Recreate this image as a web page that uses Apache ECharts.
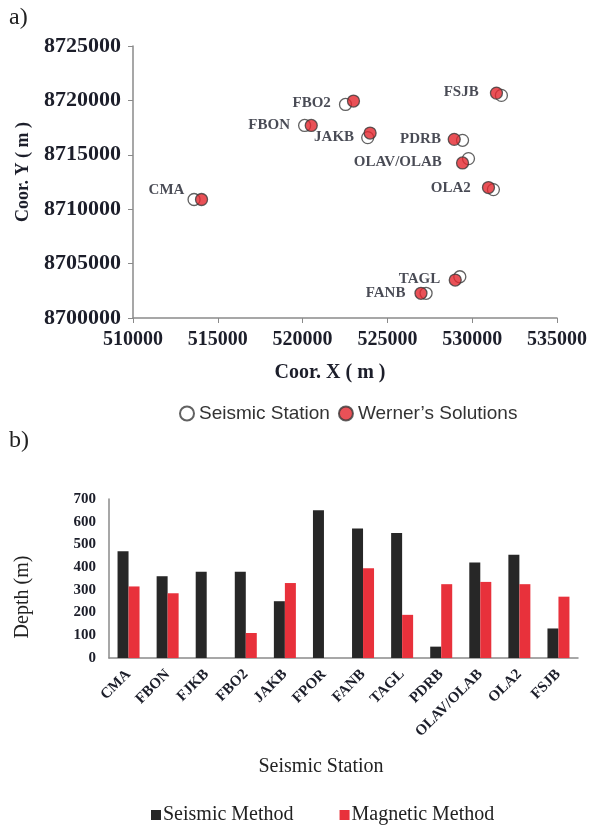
<!DOCTYPE html>
<html>
<head>
<meta charset="utf-8">
<script src="https://cdn.jsdelivr.net/npm/echarts@6/dist/echarts.min.js"></script>
<style>
  html, body { margin: 0; padding: 0; background: #fff; }
  #chart { width: 590px; height: 825px; }
</style>
</head>
<body>
<div id="chart"></div>
<script>
// ---- Panel a): station coordinates ----
const stations = ['CMA', 'FBON', 'FBO2', 'JAKB', 'FSJB', 'PDRB', 'OLAV/OLAB', 'OLA2', 'TAGL', 'FANB'];
const seismicX = [513600, 520120, 522530, 523840, 531720, 529430, 529780, 531250, 529270, 527280];
const seismicY = [8710890, 8717700, 8719630, 8716580, 8720460, 8716330, 8714650, 8711800, 8703790, 8702270];
const wernerX  = [514040, 520510, 523000, 523980, 531430, 528940, 529430, 530960, 529000, 526980];
const wernerY  = [8710890, 8717700, 8719940, 8717000, 8720670, 8716420, 8714250, 8711990, 8703490, 8702270];
const xTicks = [510000, 515000, 520000, 525000, 530000, 535000];
const yTicks = [8700000, 8705000, 8710000, 8715000, 8720000, 8725000];

// ---- Panel b): depth by station ----
const depthStations = ['CMA', 'FBON', 'FJKB', 'FBO2', 'JAKB', 'FPOR', 'FANB', 'TAGL', 'PDRB', 'OLAV/OLAB', 'OLA2', 'FSJB'];
const seismicDepth  = [470, 360, 380, 380, 250, 650, 570, 550, 50, 420, 455, 130];
const magneticDepth = [315, 285, 0, 110, 330, 0, 395, 190, 325, 335, 325, 270];
const depthTicks = [0, 100, 200, 300, 400, 500, 600, 700];

// label nudges for the station names beside the points
const labelNudge = {
  'CMA': [2, -9], 'FBON': [-3, 0], 'FBO2': [-3, -1], 'JAKB': [-2, 0], 'FSJB': [-11, -3],
  'PDRB': [-10, -1], 'OLAV/OLAB': [-15, 4], 'OLA2': [-11, -1], 'TAGL': [-8, 2], 'FANB': [-9, 0]
};

const SERIF = '"Liberation Serif", "Times New Roman", serif';
const SANS = '"Liberation Sans", Arial, sans-serif';
const TXT = '#1c1e2a';
const AXIS = '#8a8a8a';
const plain = v => String(v);

const seismicPts = stations.map((s, i) => ({
  name: s,
  value: [seismicX[i], seismicY[i]],
  label: { offset: labelNudge[s] }
}));
const wernerPts = stations.map((s, i) => ({ name: s, value: [wernerX[i], wernerY[i]] }));

const chart = echarts.init(document.getElementById('chart'), null, { renderer: 'canvas' });

chart.setOption({
  animation: false,
  backgroundColor: '#fff',
  graphic: [
    { type: 'text', left: 9, top: 6, style: { text: 'a)', font: '24px ' + SERIF, fill: '#222' } },
    { type: 'text', left: 9, top: 429, style: { text: 'b)', font: '24px ' + SERIF, fill: '#222' } },
    { type: 'text', x: 330, y: 373, style: { text: 'Coor. X ( m )', font: 'bold 20px ' + SERIF, fill: TXT, align: 'center', verticalAlign: 'middle' } },
    { type: 'text', x: 23, y: 172, rotation: Math.PI / 2, style: { text: 'Coor. Y ( m )', font: 'bold 18px ' + SERIF, fill: TXT, align: 'center', verticalAlign: 'middle' } },
    { type: 'text', x: 321, y: 767, style: { text: 'Seismic Station', font: '20px ' + SERIF, fill: '#222', align: 'center', verticalAlign: 'middle' } },
    { type: 'text', x: 23, y: 597, rotation: Math.PI / 2, style: { text: 'Depth (m)', font: '20px ' + SERIF, fill: '#222', align: 'center', verticalAlign: 'middle' } }
  ],
  legend: [
    {
      data: ['Seismic Station', "Werner\u2019s Solutions"],
      left: 174, top: 399,
      itemWidth: 14, itemHeight: 14, itemGap: 8,
      textStyle: { fontFamily: SANS, fontSize: 19, color: '#333' }
    },
    {
      data: ['Seismic Method', 'Magnetic Method'],
      left: 146, top: 800,
      icon: 'rect', itemWidth: 10, itemHeight: 10, itemGap: 46,
      textStyle: { fontFamily: SERIF, fontSize: 20, color: '#222', padding: [0, 0, 0, -3] }
    }
  ],
  grid: [
    { left: 133, right: 33, top: 46, bottom: 507 },
    { left: 109, right: 12, top: 499, bottom: 167 }
  ],
  xAxis: [
    {
      type: 'value', gridIndex: 0,
      min: xTicks[0], max: xTicks[xTicks.length - 1], interval: 5000,
      splitLine: { show: false },
      axisLine: { show: true, lineStyle: { color: AXIS, width: 1.5 } },
      axisTick: { show: true, length: 5, lineStyle: { color: AXIS } },
      axisLabel: { margin: 12, formatter: plain, fontFamily: SERIF, fontWeight: 'bold', fontSize: 20, color: TXT }
    },
    {
      type: 'category', gridIndex: 1, data: depthStations,
      axisLine: { show: true, lineStyle: { color: AXIS, width: 1.5 } },
      axisTick: { show: false },
      axisLabel: { rotate: 45, margin: 14, interval: 0, fontFamily: SERIF, fontWeight: 'bold', fontSize: 15, color: TXT }
    }
  ],
  yAxis: [
    {
      type: 'value', gridIndex: 0,
      min: yTicks[0], max: yTicks[yTicks.length - 1], interval: 5000,
      splitLine: { show: false },
      axisLine: { show: true, lineStyle: { color: AXIS, width: 1.5 } },
      axisTick: { show: true, length: 5, lineStyle: { color: AXIS } },
      axisLabel: { margin: 12, formatter: plain, fontFamily: SERIF, fontWeight: 'bold', fontSize: 22, color: TXT }
    },
    {
      type: 'value', gridIndex: 1,
      min: depthTicks[0], max: depthTicks[depthTicks.length - 1], interval: 100,
      splitLine: { show: false },
      axisLine: { show: true, lineStyle: { color: AXIS, width: 1.5 } },
      axisTick: { show: false },
      axisLabel: { margin: 13, formatter: plain, fontFamily: SERIF, fontWeight: 'bold', fontSize: 15, color: TXT }
    }
  ],
  series: [
    {
      name: 'Seismic Station', type: 'scatter', xAxisIndex: 0, yAxisIndex: 0,
      symbol: 'circle', symbolSize: 12, z: 2,
      itemStyle: { color: '#fff', borderColor: '#3a3a3a', borderWidth: 1.3 },
      label: {
        show: true, position: 'left', distance: 5, formatter: '{b}',
        fontFamily: SERIF, fontWeight: 'bold', fontSize: 15, color: TXT
      },
      data: seismicPts
    },
    {
      name: "Werner\u2019s Solutions", type: 'scatter', xAxisIndex: 0, yAxisIndex: 0,
      symbol: 'circle', symbolSize: 12, z: 3,
      itemStyle: { color: '#e3262d', borderColor: '#3a3a3a', borderWidth: 1.3 },
      data: wernerPts
    },
    {
      name: 'Seismic Method', type: 'bar', xAxisIndex: 1, yAxisIndex: 1,
      barWidth: 11, barGap: '0%',
      itemStyle: { color: '#272727' },
      data: seismicDepth
    },
    {
      name: 'Magnetic Method', type: 'bar', xAxisIndex: 1, yAxisIndex: 1,
      barWidth: 11, barGap: '0%',
      itemStyle: { color: '#e8313b' },
      data: magneticDepth
    }
  ]
});
</script>
</body>
</html>
